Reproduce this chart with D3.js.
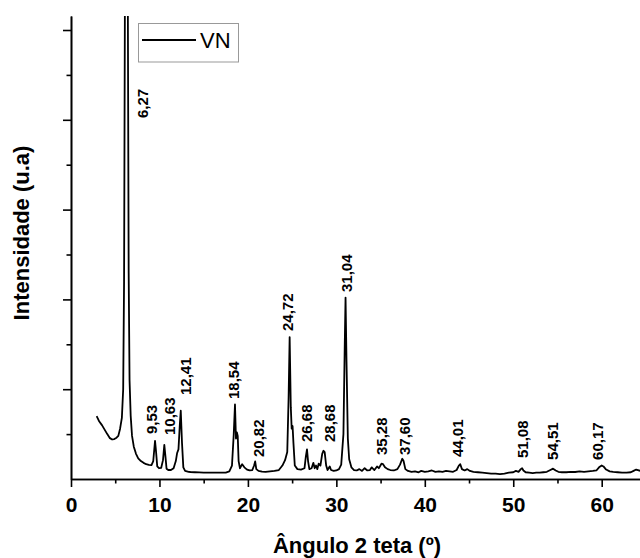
<!DOCTYPE html>
<html>
<head>
<meta charset="utf-8">
<script src="https://cdn.jsdelivr.net/npm/d3@7"></script>
<style>
  html, body { margin: 0; padding: 0; background: #fff; }
  svg { display: block; font-family: "Liberation Sans", Arial, sans-serif; }
</style>
</head>
<body>
<svg id="chart" width="640" height="558"></svg>
<script>
// ---- data: [2θ (degrees), intensity (counts)] ----
const pattern = [
  [2.9,700],[3.2,640],[3.5,600],[3.8,550],[4.1,500],[4.4,455],[4.65,440],[4.9,445],[5.15,460],[5.35,480],
  [5.55,560],[5.75,680],[5.9,1000],[6.0,2200],[6.1,5500],[6.27,12000],[6.42,5500],[6.52,2300],[6.62,1100],[6.75,700],
  [6.9,480],[7.1,360],[7.35,280],[7.6,230],[7.9,200],[8.2,180],[8.5,165],[8.8,158],[9.1,155],[9.3,200],
  [9.5,425],[9.62,300],[9.75,140],[9.95,120],[10.2,125],[10.4,210],[10.55,380],[10.68,250],[10.8,115],[11.0,100],
  [11.3,100],[11.6,120],[11.85,200],[12.0,290],[12.15,330],[12.3,600],[12.41,760],[12.55,400],[12.7,130],[12.9,90],
  [13.3,80],[13.5,78],[14,75],[14.5,73],[15,72],[15.5,72],[16,70],[16.5,70],[17,70],[17.5,72],
  [17.9,85],[18.2,150],[18.4,500],[18.54,830],[18.65,450],[18.75,520],[18.85,480],[18.95,200],[19.1,120],[19.35,165],
  [19.6,130],[19.9,105],[20.2,95],[20.5,100],[20.7,150],[20.82,195],[20.95,110],[21.2,90],[21.6,82],[22,80],
  [22.5,85],[23,90],[23.5,100],[23.9,150],[24.2,210],[24.45,300],[24.6,900],[24.72,1580],[24.85,800],[24.95,560],
  [25.05,590],[25.15,400],[25.3,150],[25.6,110],[26.0,105],[26.4,120],[26.55,250],[26.68,330],[26.8,200],[26.95,110],
  [27.2,120],[27.4,180],[27.55,120],[27.7,150],[27.85,110],[28.0,170],[28.2,150],[28.4,280],[28.55,315],[28.68,300],
  [28.85,150],[29.0,100],[29.25,140],[29.4,100],[29.7,90],[30.0,95],[30.3,110],[30.55,160],[30.8,500],[30.95,1500],
  [31.04,2020],[31.15,1300],[31.3,450],[31.45,220],[31.7,130],[32.0,100],[32.3,95],[32.6,110],[32.9,90],[33.2,120],
  [33.5,95],[33.8,100],[34.0,130],[34.3,100],[34.6,140],[34.8,120],[35.1,170],[35.28,165],[35.5,130],[35.8,110],
  [36.1,100],[36.5,95],[36.9,110],[37.2,160],[37.45,225],[37.6,200],[37.8,110],[38.1,90],[38.5,80],[38.9,85],
  [39.3,75],[39.6,90],[40.0,80],[40.4,85],[40.8,95],[41.2,80],[41.6,85],[42.0,80],[42.4,90],[42.8,85],
  [43.2,80],[43.6,100],[43.85,150],[44.01,165],[44.2,110],[44.5,95],[44.8,110],[45.1,90],[45.5,80],[46,75],
  [46.5,70],[47,65],[47.5,60],[48,60],[48.5,55],[49,60],[49.5,70],[50,75],[50.3,90],[50.6,80],
  [50.85,110],[51.0,120],[51.15,95],[51.4,75],[51.8,70],[52.2,65],[52.6,70],[53,70],[53.4,75],[53.8,80],
  [54.2,100],[54.5,115],[54.8,95],[55.1,80],[55.5,75],[56,75],[56.5,80],[57,78],[57.5,85],[58,80],
  [58.5,85],[59,90],[59.4,95],[59.7,130],[60.0,150],[60.2,140],[60.5,105],[60.9,85],[61.3,80],[61.8,75],
  [62.3,70],[62.8,72],[63.3,75],[63.6,90],[63.9,105],[64.4,90]
];

const seriesName = "VN";

// peak annotations: text, angle where the label is centred, intensity at the label's foot
const peakLabels = ["6,27","9,53","10,63","12,41","18,54","20,82","24,72","26,68","28,68","31,04","35,28","37,60","44,01","51,08","54,51","60,17"];
const peakLabelAngle = [8.11,9.12,11.19,12.89,18.32,21.25,24.53,26.68,29.28,31.17,35.13,37.76,43.75,50.99,54.49,59.58];
const peakLabelLevel = [4020,501,490,935,891,245,1648,412,412,2082,267,267,245,234,212,212];

const xTicks = [0,10,20,30,40,50,60];
const xMinorTicks = [5,15,25,35,45,55];
const yTicks = [1000,2000,3000,4000,5000];
const yMinorTicks = [500,1500,2500,3500,4500];

const xTitle = "Ângulo 2 teta (º)";
const yTitle = "Intensidade (u.a)";

// ---- layout ----
const svg = d3.select("#chart");
const mLeft = 71, mRight = 640, mTop = 16, mBottom = 479;

const x = d3.scaleLinear().domain([0, 64.33]).range([mLeft, mRight]);
const y = d3.scaleLinear().domain([0, 5156]).range([mBottom, mTop]);

svg.append("defs").append("clipPath").attr("id", "plotclip")
  .append("rect").attr("x", mLeft).attr("y", mTop).attr("width", mRight - mLeft).attr("height", mBottom - mTop);

// curve
svg.append("path")
  .datum(pattern)
  .attr("clip-path", "url(#plotclip)")
  .attr("fill", "none")
  .attr("stroke", "#000")
  .attr("stroke-width", 1.8)
  .attr("stroke-linejoin", "round")
  .attr("d", d3.line().x(d => x(d[0])).y(d => y(d[1])));

// axes
function styleAxis(g) {
  g.selectAll(".domain").attr("stroke", "#000").attr("stroke-width", 1.6);
  g.selectAll(".tick line").attr("stroke", "#000").attr("stroke-width", 1.6);
}

const xAxis = svg.append("g").attr("transform", `translate(0,${mBottom})`)
  .call(d3.axisBottom(x).tickValues(xTicks).tickSize(8).tickSizeOuter(0).tickPadding(10).tickFormat(d3.format("d")));
styleAxis(xAxis);
xAxis.selectAll("text").attr("font-size", 21).attr("font-weight", "bold").attr("fill", "#000")
  .attr("font-family", "Liberation Sans, Arial, sans-serif");

const xMinor = svg.append("g").attr("transform", `translate(0,${mBottom})`)
  .call(d3.axisBottom(x).tickValues(xMinorTicks).tickSize(4.5).tickSizeOuter(0).tickFormat(""));
styleAxis(xMinor);

const yAxis = svg.append("g").attr("transform", `translate(${mLeft},0)`)
  .call(d3.axisLeft(y).tickValues(yTicks).tickSize(8).tickSizeOuter(0).tickFormat(""));
styleAxis(yAxis);
const yMinor = svg.append("g").attr("transform", `translate(${mLeft},0)`)
  .call(d3.axisLeft(y).tickValues(yMinorTicks).tickSize(4.5).tickSizeOuter(0).tickFormat(""));
styleAxis(yMinor);

// peak labels
svg.append("g").selectAll("text")
  .data(peakLabels)
  .join("text")
  .attr("transform", (d, i) => `translate(${x(peakLabelAngle[i]) + 5.5},${y(peakLabelLevel[i])}) rotate(-90)`)
  .attr("font-size", 15)
  .attr("font-weight", "bold")
  .attr("fill", "#000")
  .text(d => d);

// legend
const lg = svg.append("g");
lg.append("rect").attr("x", 138.5).attr("y", 23.5).attr("width", 100).attr("height", 38.5)
  .attr("fill", "#fff").attr("stroke", "#999").attr("stroke-width", 1);
lg.append("line").attr("x1", 142).attr("x2", 196).attr("y1", 40).attr("y2", 40)
  .attr("stroke", "#000").attr("stroke-width", 2);
lg.append("text").attr("x", 200).attr("y", 47.5).attr("font-size", 22).attr("fill", "#000").text(seriesName);

// axis titles
svg.append("text").attr("x", 357).attr("y", 553).attr("text-anchor", "middle")
  .attr("font-size", 22).attr("font-weight", "bold").attr("fill", "#000").text(xTitle);
svg.append("text").attr("transform", `translate(29,233) rotate(-90)`).attr("text-anchor", "middle")
  .attr("font-size", 22).attr("font-weight", "bold").attr("fill", "#000").text(yTitle);
</script>
</body>
</html>
